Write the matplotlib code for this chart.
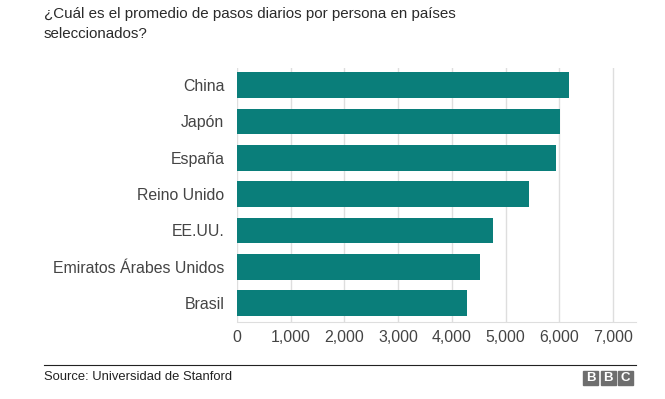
import matplotlib.pyplot as plt
from matplotlib.patches import Rectangle

plt.rcParams['font.family'] = ['Liberation Sans', 'DejaVu Sans']

countries = ["China", "Japón", "España", "Reino Unido", "EE.UU.",
             "Emiratos Árabes Unidos", "Brasil"]
steps = [6189, 6010, 5936, 5444, 4774, 4516, 4289]
xticks = [0, 1000, 2000, 3000, 4000, 5000, 6000, 7000]

TEAL = "#0a7e7a"
GRID = "#dedede"
TEXT = "#444444"

fig = plt.figure(figsize=(6.65, 3.99), dpi=100)
ax = fig.add_axes([0.3564, 0.193, 0.6, 0.6366])

ypos = list(range(len(countries)))[::-1]
ax.barh(ypos, steps, height=0.71, color=TEAL, zorder=3)

ax.set_xlim(0, 7430)
ax.set_ylim(-0.52, 6.47)
ax.set_xticks(xticks)
ax.set_xticklabels([f"{v:,}" for v in xticks], fontsize=11.4, color=TEXT)
ax.set_yticks(ypos)
ax.set_yticklabels(countries, fontsize=11.4, color=TEXT)
ax.tick_params(axis="y", length=0, pad=9)
ax.tick_params(axis="x", length=0, pad=6)
ax.grid(axis="x", color=GRID, linewidth=1, zorder=0)
for s in ["top", "right", "left"]:
    ax.spines[s].set_visible(False)
ax.spines["bottom"].set_color(GRID)

fig.text(44 / 665, 1 - 7 / 399,
         "¿Cuál es el promedio de pasos diarios por persona en países\nseleccionados?",
         fontsize=10.9, color="#2a2a2a", va="top", ha="left", linespacing=1.5)

fig.add_artist(plt.Line2D([44 / 665, 636 / 665], [1 - 365 / 399, 1 - 365 / 399],
                          color="#222222", linewidth=0.8))
fig.text(44 / 665, 1 - 377 / 399, "Source: Universidad de Stanford",
         fontsize=9.4, color="#222222", va="center", ha="left")

# BBC blocks
bw, gap = 15, 2.5
x0 = 633 - 3 * bw - 2 * gap
for i, ch in enumerate("BBC"):
    x = x0 + i * (bw + gap)
    fig.add_artist(Rectangle((x / 665, 1 - 385 / 399), bw / 665, 14 / 399,
                             transform=fig.transFigure, color="#6e6e6e"))
    fig.text((x + bw / 2) / 665, 1 - 378 / 399, ch, fontsize=9.5, fontweight="bold",
             color="white", ha="center", va="center")

fig.savefig("out.png", dpi=100)
